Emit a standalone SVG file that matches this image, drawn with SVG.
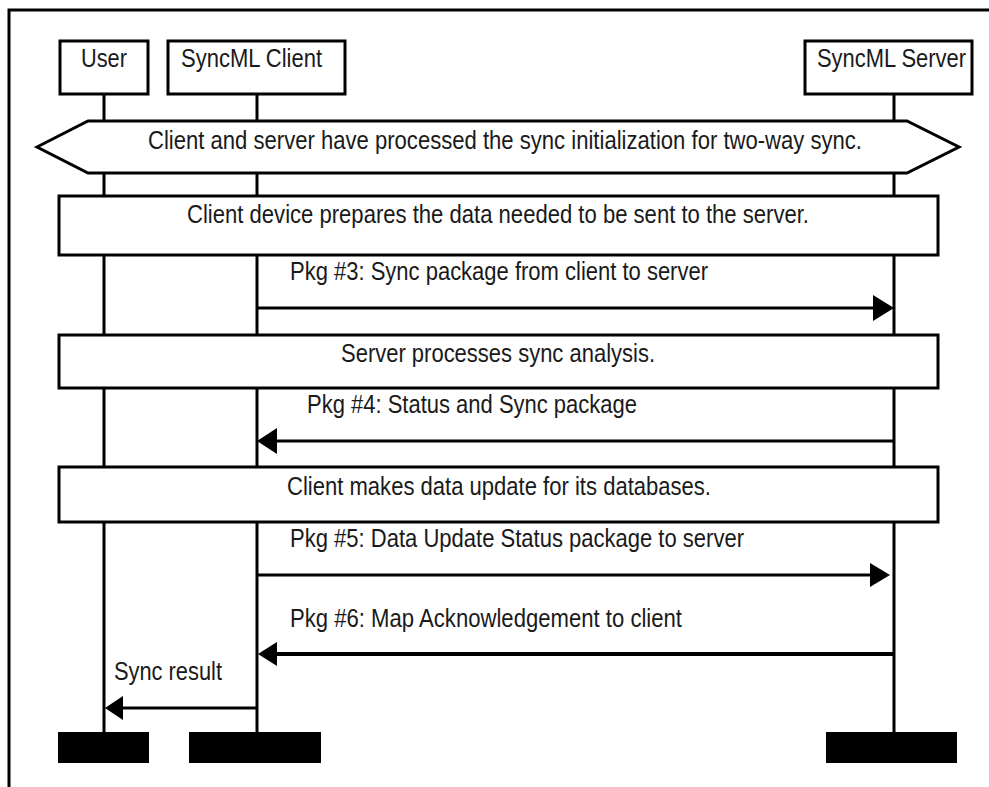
<svg xmlns="http://www.w3.org/2000/svg" width="989" height="787" viewBox="0 0 989 787">
  <style>
    .frame { fill: none; stroke: #000; stroke-width: 3; }
    .box { fill: #fff; stroke: #000; stroke-width: 3; }
    .life { stroke: #000; stroke-width: 3; fill: none; }
    .msg { stroke: #000; stroke-width: 3; fill: none; }
    .msg-bold { stroke: #000; stroke-width: 4; fill: none; }
    .head { fill: #000; stroke: none; }
    .bar { fill: #000; }
    text { font-family: "Liberation Sans", Arial, sans-serif; font-size: 25px; fill: #1a1a1a; }
    .mid { text-anchor: middle; }
  </style>
  <rect width="989" height="787" fill="#fff"/>
  <!-- page frame: open on the right and bottom -->
  <path class="frame" d="M9 787 V10 H989"/>

  <!-- lifelines -->
  <g id="lifelines">
    <line class="life" x1="104" y1="94" x2="104" y2="732"/>
    <line class="life" x1="257" y1="94" x2="257" y2="732"/>
    <line class="life" x1="894" y1="94" x2="894" y2="732"/>
  </g>

  <!-- participants -->
  <g id="user">
    <rect class="box" x="60" y="41" width="88" height="53"/>
    <text x="104" y="67" class="mid" textLength="46" lengthAdjust="spacingAndGlyphs">User</text>
    <rect class="bar" x="58" y="732" width="91" height="31"/>
  </g>
  <g id="client">
    <rect class="box" x="168" y="41" width="177" height="53"/>
    <text x="181" y="67" textLength="141" lengthAdjust="spacingAndGlyphs">SyncML Client</text>
    <rect class="bar" x="189" y="732" width="132" height="31"/>
  </g>
  <g id="server">
    <rect class="box" x="805" y="41" width="167" height="53"/>
    <text x="817" y="67" textLength="149" lengthAdjust="spacingAndGlyphs">SyncML Server</text>
    <rect class="bar" x="826" y="732" width="131" height="31"/>
  </g>

  <!-- shared state -->
  <g id="init-state">
    <polygon class="box" points="37,147 88,121 907,121 959,147 907,173 88,173"/>
    <text x="148" y="149" textLength="714" lengthAdjust="spacingAndGlyphs">Client and server have processed the sync initialization for two-way sync.</text>
  </g>

  <!-- activity bars -->
  <g id="prepare">
    <rect class="box" x="59" y="196" width="879" height="59"/>
    <text x="187" y="223" textLength="622" lengthAdjust="spacingAndGlyphs">Client device prepares the data needed to be sent to the server.</text>
  </g>
  <g id="analysis">
    <rect class="box" x="59" y="335" width="879" height="53"/>
    <text x="341" y="362" textLength="314" lengthAdjust="spacingAndGlyphs">Server processes sync analysis.</text>
  </g>
  <g id="update">
    <rect class="box" x="59" y="467" width="879" height="55"/>
    <text x="287" y="495" textLength="424" lengthAdjust="spacingAndGlyphs">Client makes data update for its databases.</text>
  </g>

  <!-- messages -->
  <g id="connectors">
    <line class="msg" x1="257" y1="308" x2="876" y2="308"/>
    <polygon class="head" points="894,308 873,295 873,321"/>
    <text x="290" y="280" textLength="418" lengthAdjust="spacingAndGlyphs">Pkg #3: Sync package from client to server</text>

    <line class="msg" x1="894" y1="441" x2="275" y2="441"/>
    <polygon class="head" points="257,441 277,428 277,454"/>
    <text x="307" y="413" textLength="330" lengthAdjust="spacingAndGlyphs">Pkg #4: Status and Sync package</text>

    <line class="msg" x1="257" y1="575" x2="872" y2="575"/>
    <polygon class="head" points="890,575 870,563 870,587"/>
    <text x="290" y="547" textLength="454" lengthAdjust="spacingAndGlyphs">Pkg #5: Data Update Status package to server</text>

    <line class="msg-bold" x1="894" y1="654" x2="275" y2="654"/>
    <polygon class="head" points="258,654 277,642 277,666"/>
    <text x="290" y="627" textLength="392" lengthAdjust="spacingAndGlyphs">Pkg #6: Map Acknowledgement to client</text>

    <line class="msg" x1="257" y1="708" x2="120" y2="708"/>
    <polygon class="head" points="105,708 123,696 123,720"/>
    <text x="114" y="680" textLength="108" lengthAdjust="spacingAndGlyphs">Sync result</text>
  </g>
</svg>
